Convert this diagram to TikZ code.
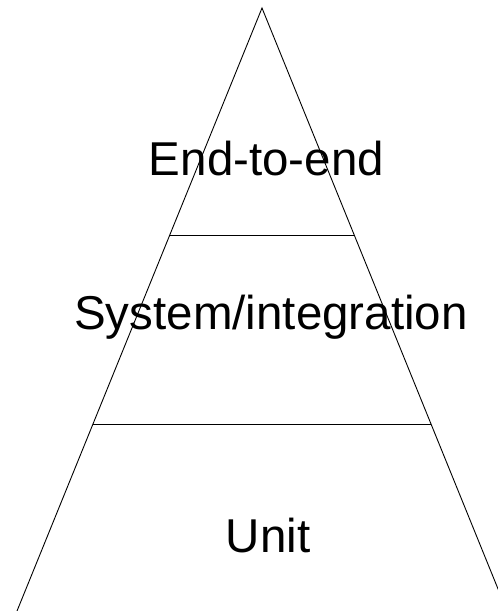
\documentclass[tikz,border=0pt]{standalone}
\usepackage{fontspec}
\setmainfont{Liberation Sans}
\begin{document}
\begin{tikzpicture}[x=1pt,y=-1pt,
  edge/.style={draw=black,line width=0.9pt},
  label/.style={anchor=base,inner sep=0pt,font=\fontsize{47.5}{50}\selectfont}]
\useasboundingbox (0,0) rectangle (498,611);
\clip (0,0) rectangle (498,611);
\coordinate (apex) at (262,8);
\coordinate (bl) at (17,611);
\coordinate (br) at (507,611);
\draw[edge] (bl) -- (apex) -- (br);
\coordinate (l1) at (169.8,235);
\coordinate (r1) at (354.2,235);
\coordinate (l2) at (93,424);
\coordinate (r2) at (431,424);
\draw[edge] (l1) -- (r1);
\draw[edge] (l2) -- (r2);
\node[label] (e2e) at (266.5,175.5) {End-to-end};
\node[label] (sys) at (271,329.5) {System/integration};
\node[label] (unit) at (268,552.5) {Unit};
\end{tikzpicture}
\end{document}
